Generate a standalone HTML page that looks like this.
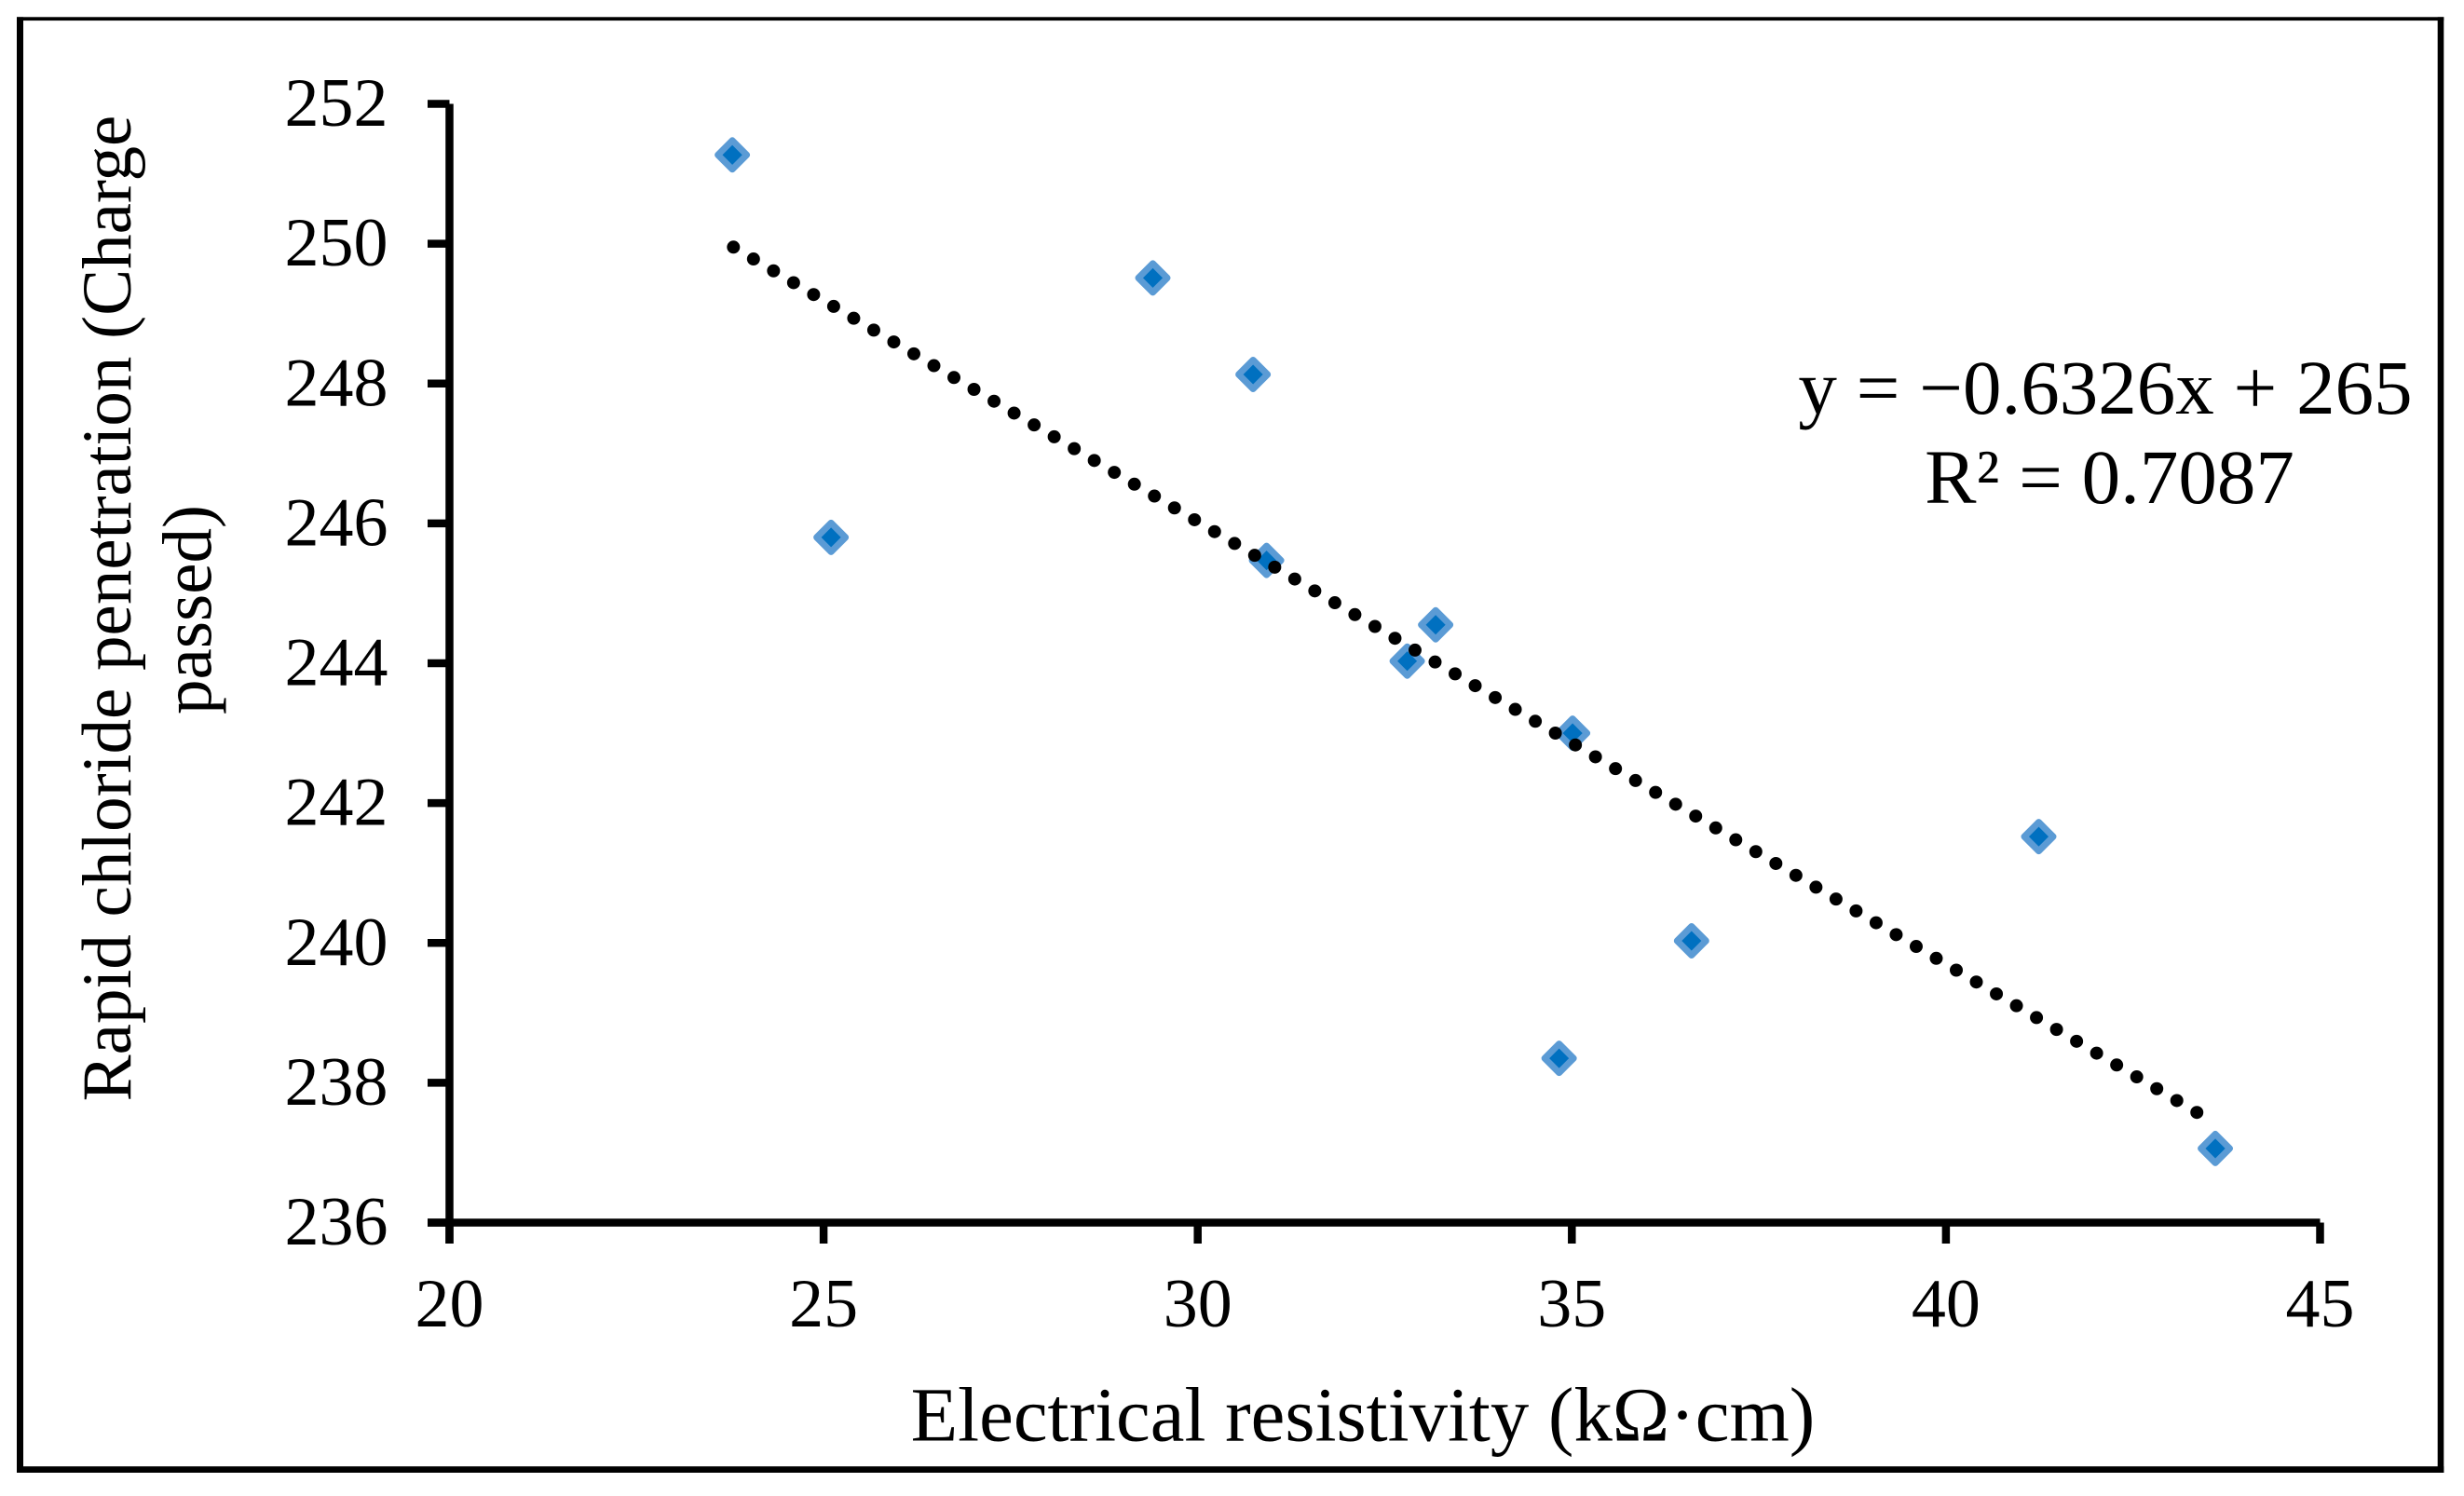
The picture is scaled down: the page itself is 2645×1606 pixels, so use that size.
<!DOCTYPE html>
<html>
<head>
<meta charset="utf-8">
<title>Rapid chloride penetration vs electrical resistivity</title>
<style>
html,body{margin:0;padding:0;background:#fff;}
svg{display:block;}
text{font-family:"Liberation Serif",serif;fill:#000;}
</style>
</head>
<body>
<svg id="chart" xmlns="http://www.w3.org/2000/svg" width="2645" height="1606" viewBox="0 0 2645 1606">
  <rect x="0" y="0" width="2645" height="1606" fill="#fff"/>
  <g>
    <rect x="18" y="18.3" width="2605.3" height="3.8" fill="#000"/>
    <rect x="18" y="18.3" width="7" height="1562.7" fill="#000"/>
    <rect x="2616.7" y="18.3" width="6.6" height="1562.7" fill="#000"/>
    <rect x="18" y="1574.2" width="2605.3" height="6.8" fill="#000"/>
  </g>
  <g id="axes"></g>
  <g id="trend"></g>
  <g id="points"></g>
  <text x="1463" y="1546.7" font-size="82.7" text-anchor="middle">Electrical resistivity (kΩ·cm)</text>
  <g transform="translate(140,653) rotate(-90)">
    <text x="0" y="0" font-size="75" text-anchor="middle">Rapid chloride penetration (Charge</text>
    <text x="-1.5" y="86.7" font-size="75" text-anchor="middle">passed)</text>
  </g>
  <text x="2260" y="444" font-size="83" text-anchor="middle">y = −0.6326x + 265</text>
  <text x="2264.5" y="540" font-size="83" text-anchor="middle">R² = 0.7087</text>
</svg>
<script>
var xTicks = [20, 25, 30, 35, 40, 45];
var yTicks = [236, 238, 240, 242, 244, 246, 248, 250, 252];
var xValues = [23.78, 25.1, 29.4, 30.74, 30.92, 32.8, 33.18, 35.01, 34.83, 36.6, 41.24, 43.6];
var yValues = [251.27, 245.8, 249.51, 248.13, 245.47, 244.03, 244.55, 243.0, 238.35, 240.03, 241.52, 237.06];
var trendX = [23.795, 43.355];
var trendY = [249.951, 237.575];

var NS = 'http://www.w3.org/2000/svg';
var plotLeft = 482.5, plotRight = 2490.5, plotTop = 111.5, plotBottom = 1312.5;
var xMin = xTicks[0], xMax = xTicks[xTicks.length - 1];
var yMin = yTicks[0], yMax = yTicks[yTicks.length - 1];

function sx(v) { return plotLeft + (v - xMin) / (xMax - xMin) * (plotRight - plotLeft); }
function sy(v) { return plotBottom - (v - yMin) / (yMax - yMin) * (plotBottom - plotTop); }

function make(tag, attrs, parent) {
  var el = document.createElementNS(NS, tag);
  for (var k in attrs) { el.setAttribute(k, attrs[k]); }
  parent.appendChild(el);
  return el;
}

var axes = document.getElementById('axes');
var trend = document.getElementById('trend');
var points = document.getElementById('points');

var yAxis = make('line', {x1: plotLeft, y1: plotTop, x2: plotLeft, y2: plotBottom + 22.5, stroke: '#000', 'stroke-width': 8.5}, axes);



var xAxis = make('line', {x1: plotLeft - 23.5, y1: plotBottom, x2: plotRight, y2: plotBottom, stroke: '#000', 'stroke-width': 8.5}, axes);



yTicks.forEach(function (t) {
  var y = sy(t);
  var mark = make('line', {x1: plotLeft - 23.5, y1: y, x2: plotLeft, y2: y, stroke: '#000', 'stroke-width': 8.5}, axes);
  
  
  var label = make('text', {x: 416.5, y: y + 23.5, 'font-size': 74, 'text-anchor': 'end'}, axes);
  label.textContent = t;
  
  
});

xTicks.forEach(function (t) {
  var x = sx(t);
  var mark = make('line', {x1: x, y1: plotBottom, x2: x, y2: plotBottom + 22.5, stroke: '#000', 'stroke-width': 8.5}, axes);
  
  
  var label = make('text', {x: x, y: 1424, 'font-size': 74, 'text-anchor': 'middle'}, axes);
  label.textContent = t;
  
  
});

xValues.forEach(function (v, i) {
  var cx = sx(v), cy = sy(yValues[i]), r = 15.5;
  var d = cx + ',' + (cy - r) + ' ' + (cx + r) + ',' + cy + ' ' + cx + ',' + (cy + r) + ' ' + (cx - r) + ',' + cy;
  var marker = make('polygon', {points: d, fill: '#0070C0', stroke: '#5B9BD5', 'stroke-width': 7, 'stroke-linejoin': 'round'}, points);
  
  
});

// Trendline dots sit above the markers, as in the reference.
points.parentNode.appendChild(trend);
var trendLine = make('line', {x1: sx(trendX[0]), y1: sy(trendY[0]), x2: sx(trendX[1]), y2: sy(trendY[1]), stroke: '#000', 'stroke-width': 14, 'stroke-linecap': 'round', 'stroke-dasharray': '0 25'}, trend);


</script>
</body>
</html>
